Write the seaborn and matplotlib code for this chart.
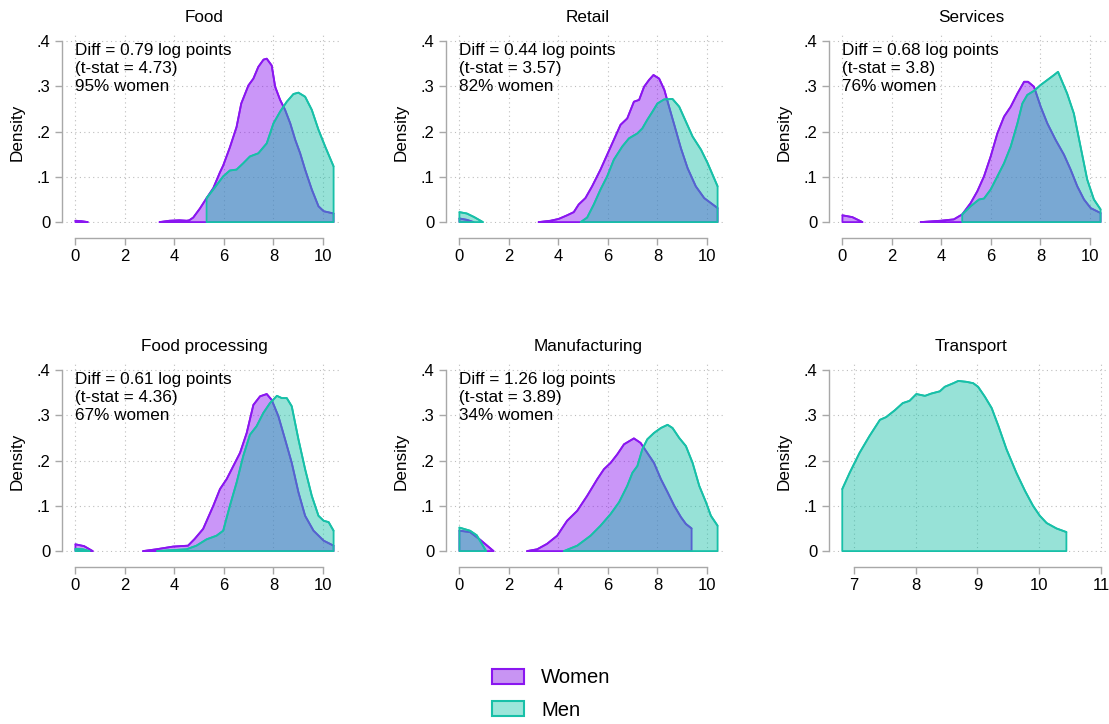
import numpy as np
import pandas as pd
import seaborn as sns
import matplotlib.pyplot as plt
from matplotlib.patches import Patch

nan = np.nan

panels = ['Food', 'Retail', 'Services', 'Food processing', 'Manufacturing', 'Transport']
notes = ['Diff = 0.79 log points\n(t-stat = 4.73)\n95% women',
         'Diff = 0.44 log points\n(t-stat = 3.57)\n82% women',
         'Diff = 0.68 log points\n(t-stat = 3.8)\n76% women',
         'Diff = 0.61 log points\n(t-stat = 4.36)\n67% women',
         'Diff = 1.26 log points\n(t-stat = 3.89)\n34% women',
         '']

# density curves, nan splits separate pieces
food_w_x = [0, 0.25, 0.5, nan, 3.4, 3.8, 4.2, 4.5, 4.6, 4.76, 5.03, 5.3, 5.57, 5.84, 5.97, 6.24, 6.51, 6.7, 6.99,
            7.19, 7.39, 7.6, 7.73, 7.93, 8.07, 8.27, 8.47, 8.68, 8.88, 9.08, 9.28, 9.55, 9.82, 10.03, 10.43]
food_w_y = [0.003, 0.002, 0, nan, 0, 0.003, 0.004, 0.003, 0.004, 0.01, 0.03, 0.053, 0.075, 0.11, 0.125, 0.165,
            0.21, 0.262, 0.302, 0.317, 0.343, 0.359, 0.361, 0.346, 0.299, 0.27, 0.248, 0.218, 0.182, 0.152,
            0.116, 0.072, 0.035, 0.024, 0.019]
food_m_x = [5.3, 5.57, 5.97, 6.24, 6.51, 6.78, 7.05, 7.39, 7.73, 8.0, 8.27, 8.54, 8.81, 9.01, 9.28, 9.55, 9.82,
            10.09, 10.43]
food_m_y = [0.053, 0.072, 0.101, 0.114, 0.116, 0.13, 0.145, 0.152, 0.174, 0.218, 0.244, 0.266, 0.283, 0.286,
            0.277, 0.248, 0.204, 0.167, 0.123]

retail_w_x = [0, 0.3, 0.57, nan, 3.2, 3.68, 4.01, 4.35, 4.62, 4.82, 5.09, 5.36, 5.7, 5.97, 6.24, 6.51, 6.78, 7.05,
              7.26, 7.46, 7.66, 7.84, 8.07, 8.28, 8.47, 8.68, 8.95, 9.22, 9.55, 9.89, 10.43]
retail_w_y = [0.008, 0.005, 0, nan, 0, 0.003, 0.007, 0.015, 0.022, 0.039, 0.053, 0.079, 0.116, 0.149, 0.182,
              0.215, 0.229, 0.266, 0.27, 0.299, 0.314, 0.325, 0.317, 0.292, 0.255, 0.215, 0.163, 0.119, 0.079,
              0.053, 0.031]
retail_m_x = [0, 0.3, 0.6, 0.95, nan, 4.9, 5.16, 5.43, 5.7, 5.97, 6.24, 6.58, 6.85, 7.19, 7.39, 7.59, 7.8, 8.0,
              8.27, 8.61, 8.88, 9.15, 9.42, 9.76, 10.03, 10.43]
retail_m_y = [0.022, 0.019, 0.011, 0, nan, 0, 0.01, 0.039, 0.072, 0.101, 0.138, 0.167, 0.185, 0.196, 0.207,
              0.226, 0.244, 0.262, 0.271, 0.272, 0.255, 0.222, 0.189, 0.16, 0.13, 0.079]

serv_w_x = [0, 0.4, 0.81, nan, 3.16, 3.97, 4.5, 4.84, 5.18, 5.45, 5.72, 5.99, 6.26, 6.53, 6.8, 7.07, 7.34, 7.5,
            7.74, 8.01, 8.28, 8.61, 8.95, 9.22, 9.49, 9.76, 10.03, 10.43]
serv_w_y = [0.015, 0.011, 0, nan, 0, 0.003, 0.006, 0.017, 0.042, 0.068, 0.101, 0.145, 0.196, 0.233, 0.255,
            0.284, 0.31, 0.31, 0.299, 0.255, 0.218, 0.182, 0.149, 0.116, 0.079, 0.05, 0.031, 0.02]
serv_m_x = [4.84, 5.18, 5.52, 5.72, 5.99, 6.26, 6.53, 6.8, 7.07, 7.27, 7.47, 7.74, 8.01, 8.28, 8.55, 8.71, 8.88,
            9.08, 9.35, 9.62, 9.89, 10.16, 10.43]
serv_m_y = [0.017, 0.035, 0.05, 0.052, 0.072, 0.101, 0.13, 0.167, 0.218, 0.262, 0.281, 0.29, 0.303, 0.314,
            0.325, 0.332, 0.31, 0.284, 0.24, 0.167, 0.094, 0.05, 0.028]

fproc_w_x = [0, 0.35, 0.7, nan, 2.73, 3.27, 3.95, 4.55, 4.82, 5.16, 5.57, 5.84, 6.11, 6.38, 6.65, 6.92, 7.19,
             7.46, 7.73, 7.93, 8.2, 8.47, 8.74, 9.01, 9.28, 9.62, 10.03, 10.43]
fproc_w_y = [0.015, 0.011, 0, nan, 0, 0.004, 0.01, 0.012, 0.027, 0.049, 0.1, 0.137, 0.159, 0.188, 0.217, 0.261,
             0.323, 0.342, 0.347, 0.334, 0.298, 0.247, 0.195, 0.13, 0.078, 0.045, 0.023, 0.012]
fproc_m_x = [0, 0.3, 0.57, nan, 3.3, 4.49, 4.89, 5.3, 5.7, 5.97, 6.24, 6.51, 6.78, 7.05, 7.32, 7.59, 7.86, 8.14,
             8.34, 8.54, 8.74, 9.01, 9.28, 9.55, 9.82, 10.03, 10.23, 10.43]
fproc_m_y = [0.005, 0.004, 0, nan, 0, 0.004, 0.012, 0.026, 0.034, 0.045, 0.1, 0.151, 0.21, 0.257, 0.276, 0.305,
             0.327, 0.343, 0.338, 0.338, 0.32, 0.247, 0.181, 0.122, 0.078, 0.067, 0.064, 0.045]

manu_w_x = [0, 0.43, 0.84, 1.38, nan, 2.73, 3.14, 3.54, 3.95, 4.35, 4.76, 5.16, 5.57, 5.84, 6.11, 6.38, 6.65,
            7.05, 7.32, 7.59, 7.86, 8.14, 8.41, 8.68, 8.95, 9.15, 9.38]
manu_w_y = [0.045, 0.042, 0.025, 0, nan, 0, 0.004, 0.016, 0.034, 0.067, 0.089, 0.122, 0.159, 0.181, 0.195,
            0.214, 0.236, 0.249, 0.239, 0.217, 0.195, 0.159, 0.13, 0.1, 0.075, 0.06, 0.05]
manu_m_x = [0, 0.43, 0.7, 1.08, nan, 4.22, 4.76, 5.3, 5.7, 6.11, 6.45, 6.78, 6.99, 7.19, 7.39, 7.59, 7.86, 8.14,
            8.41, 8.61, 8.88, 9.15, 9.42, 9.69, 9.96, 10.16, 10.43]
manu_m_y = [0.052, 0.045, 0.035, 0, nan, 0, 0.012, 0.034, 0.056, 0.082, 0.108, 0.144, 0.173, 0.188, 0.225,
            0.247, 0.261, 0.272, 0.279, 0.272, 0.25, 0.232, 0.195, 0.144, 0.108, 0.078, 0.056]

trans_m_x = [6.81, 6.93, 7.09, 7.25, 7.42, 7.52, 7.66, 7.79, 7.9, 8.01, 8.15, 8.25, 8.39, 8.47, 8.61, 8.69, 8.82,
             8.93, 9.01, 9.12, 9.23, 9.34, 9.47, 9.63, 9.77, 9.9, 10.01, 10.12, 10.28, 10.44]
trans_m_y = [0.137, 0.173, 0.217, 0.254, 0.29, 0.296, 0.311, 0.327, 0.332, 0.347, 0.343, 0.348, 0.353, 0.363,
             0.371, 0.376, 0.374, 0.371, 0.363, 0.341, 0.316, 0.276, 0.225, 0.173, 0.133, 0.1, 0.078, 0.062,
             0.05, 0.042]

women = [(food_w_x, food_w_y), (retail_w_x, retail_w_y), (serv_w_x, serv_w_y),
         (fproc_w_x, fproc_w_y), (manu_w_x, manu_w_y), None]
men = [(food_m_x, food_m_y), (retail_m_x, retail_m_y), (serv_m_x, serv_m_y),
       (fproc_m_x, fproc_m_y), (manu_m_x, manu_m_y), (trans_m_x, trans_m_y)]

y_ticks = [0, 0.1, 0.2, 0.3, 0.4]
y_labels = ['0', '.1', '.2', '.3', '.4']

c_women = '#8a16f0'
c_men = '#18c0a8'

sns.set_style('white')
plt.rcParams['font.family'] = ['Liberation Sans', 'DejaVu Sans']
plt.rcParams['text.color'] = 'black'
plt.rcParams['axes.labelcolor'] = 'black'


def draw(ax, xy, color, z):
    d = pd.DataFrame({'x': xy[0], 'y': xy[1]})
    d['seg'] = d['x'].isna().cumsum()
    d = d.dropna()
    for _, g in d.groupby('seg'):
        ax.fill_between(g['x'], g['y'], 0, facecolor=color, alpha=0.45, lw=0, zorder=z)
        ax.fill_between(g['x'], g['y'], 0, facecolor='none', edgecolor=color, lw=1.3, zorder=z + 0.1)
        sns.lineplot(x=g['x'].values, y=g['y'].values, color=color, lw=1.3, sort=False,
                     estimator=None, zorder=z + 0.1, ax=ax)


fig = plt.figure(figsize=(11.09, 7.24), dpi=100)
lefts = [66, 450, 833]
tops = [32, 361]
W, H = 276, 191
for i, name in enumerate(panels):
    r, c = divmod(i, 3)
    ax = fig.add_axes([lefts[c] / 1109, 1 - (tops[r] + H) / 724, W / 1109, H / 724])
    ax.set_axisbelow(True)
    ax.grid(True, ls=(0, (1, 3)), color='#bdbdbd', lw=0.8)
    if women[i] is not None:
        draw(ax, women[i], c_women, 1)
    draw(ax, men[i], c_men, 2)

    if name == 'Transport':
        ax.set_xlim(6.66, 11.13)
        ax.set_xticks([7, 8, 9, 10, 11])
        ax.spines['bottom'].set_bounds(7, 11)
    else:
        ax.set_xlim(-0.38, 10.77)
        ax.set_xticks([0, 2, 4, 6, 8, 10])
        ax.spines['bottom'].set_bounds(0, 10)
    ax.set_ylim(-0.002, 0.42)
    ax.set_yticks(y_ticks)
    ax.set_yticklabels(y_labels)
    ax.spines['left'].set_bounds(0, 0.4)
    ax.spines['left'].set_position(('outward', 3))
    ax.spines['bottom'].set_position(('outward', 11))
    for s in ['top', 'right']:
        ax.spines[s].set_visible(False)
    for s in ['left', 'bottom']:
        ax.spines[s].set_color('#a8a8a8')
        ax.spines[s].set_linewidth(1.0)
    ax.tick_params(direction='out', length=5, width=1.0, color='#a8a8a8',
                   labelsize=12, labelcolor='black', pad=3, left=True, bottom=True)
    ax.set_xlabel('')
    ax.set_ylabel('Density', fontsize=12.3)
    ax.yaxis.set_label_coords(-0.15, 0.475)
    ax.set_title(name, fontsize=12.3, pad=7, color='black')
    if notes[i]:
        ax.text(0, 0.94, notes[i], transform=ax.get_xaxis_transform(), fontsize=12.3,
                va='top', ha='left', linespacing=1.22)

handles = [Patch(facecolor=(0.784, 0.58, 0.953), edgecolor=c_women, lw=1.5, label='Women'),
           Patch(facecolor=(0.612, 0.902, 0.855), edgecolor=c_men, lw=1.5, label='Men')]
fig.legend(handles=handles, loc='center', bbox_to_anchor=(0.497, 1 - 694 / 724), frameon=False,
           fontsize=14.6, handlelength=1.6, handleheight=0.75, handletextpad=0.85, labelspacing=0.65)

fig.savefig('out.png', dpi=100)
